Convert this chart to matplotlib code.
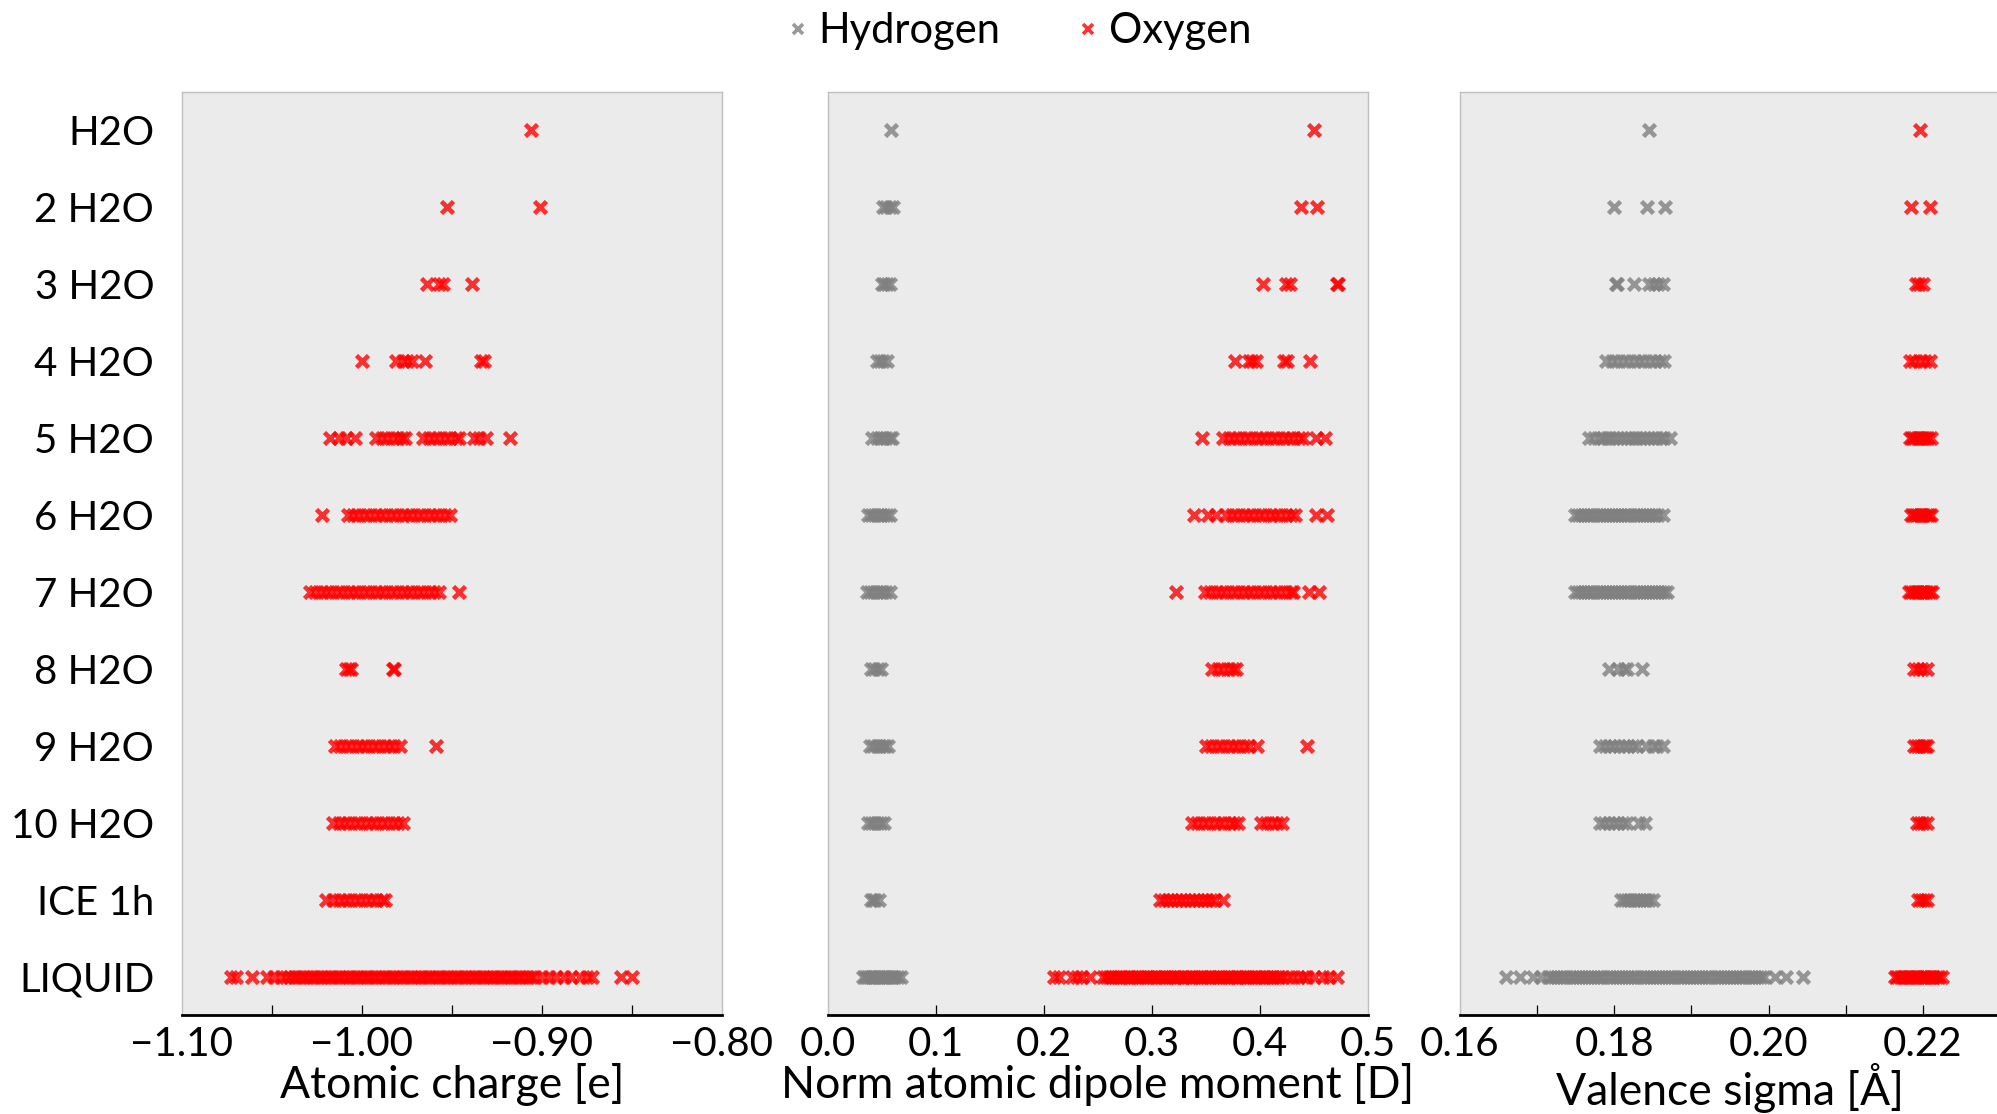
import numpy as np
import matplotlib
matplotlib.use("Agg")
import matplotlib.pyplot as plt
from matplotlib.lines import Line2D

plt.rcParams['font.family'] = ['Lato', 'DejaVu Sans']

# ---- data ----
systems = ['H2O', '2 H2O', '3 H2O', '4 H2O', '5 H2O', '6 H2O', '7 H2O',
           '8 H2O', '9 H2O', '10 H2O', 'ICE 1h', 'LIQUID']

# atomic charge [e] (hydrogen charges lie outside the plotted range)
charge_H = [[] for _ in systems]
charge_O = [
    [-0.906],
    [-0.953, -0.901],
    [-0.964, -0.957, -0.955, -0.939],
    [-1.000, -0.981, -0.977, -0.975, -0.972, -0.965, -0.934, -0.932],
    [-1.018, -1.013, -1.009, -1.004, -0.992, -0.989, -0.986, -0.983, -0.980, -0.978,
     -0.976, -0.966, -0.963, -0.960, -0.957, -0.954, -0.951, -0.948, -0.946, -0.938,
     -0.935, -0.931, -0.918],
    [-1.022, -1.008, -1.005, -1.002, -0.999, -0.996, -0.993, -0.990, -0.987, -0.984,
     -0.981, -0.978, -0.975, -0.972, -0.969, -0.966, -0.963, -0.960, -0.957, -0.954,
     -0.951],
    [-1.029, -1.026, -1.023, -1.020, -1.017, -1.014, -1.011, -1.008, -1.005, -1.002,
     -0.999, -0.996, -0.993, -0.990, -0.987, -0.984, -0.981, -0.978, -0.975, -0.972,
     -0.969, -0.966, -0.963, -0.960, -0.957, -0.946],
    [-1.009, -1.007, -1.006, -0.983, -0.982],
    [-1.015, -1.012, -1.009, -1.006, -1.003, -1.000, -0.997, -0.994, -0.991, -0.988,
     -0.985, -0.982, -0.979, -0.959],
    [-1.016, -1.013, -1.010, -1.007, -1.004, -1.001, -0.998, -0.995, -0.992, -0.989,
     -0.986, -0.983, -0.980, -0.977],
    [-1.020, -1.016, -1.013, -1.010, -1.007, -1.004, -1.001, -0.998, -0.995, -0.992,
     -0.989, -0.987],
    [-1.073, -1.070, -1.061, -1.053, -1.049, -1.045,
     -1.042, -1.040, -1.038, -1.036, -1.034, -1.032, -1.030, -1.028, -1.026, -1.024,
     -1.022, -1.020, -1.018, -1.016, -1.014, -1.012, -1.010, -1.008, -1.006, -1.004,
     -1.002, -1.000, -0.998, -0.996, -0.994, -0.992, -0.990, -0.988, -0.986, -0.984,
     -0.982, -0.980, -0.978, -0.976, -0.974, -0.972, -0.970, -0.968, -0.966, -0.964,
     -0.962, -0.960, -0.958, -0.956, -0.954, -0.952, -0.950, -0.948, -0.946, -0.944,
     -0.942, -0.940, -0.938, -0.936, -0.934, -0.932, -0.930, -0.928, -0.926, -0.924,
     -0.922, -0.920, -0.918, -0.916, -0.914, -0.912, -0.910, -0.908, -0.906, -0.904,
     -0.900, -0.896, -0.892, -0.888, -0.884, -0.879, -0.875, -0.872,
     -0.856, -0.850],
]

# norm atomic dipole moment [D]
dipole_H = [
    [0.058],
    [0.051, 0.054, 0.057, 0.060],
    [0.050, 0.052, 0.055, 0.057],
    [0.045, 0.048, 0.051, 0.055],
    [0.041, 0.045, 0.048, 0.051, 0.054, 0.057, 0.059],
    [0.037, 0.040, 0.043, 0.046, 0.049, 0.052, 0.055, 0.057],
    [0.036, 0.039, 0.042, 0.045, 0.048, 0.051, 0.054, 0.057],
    [0.040, 0.043, 0.046, 0.049],
    [0.039, 0.042, 0.045, 0.048, 0.051, 0.053, 0.056],
    [0.037, 0.040, 0.043, 0.046, 0.049, 0.052],
    [0.040, 0.042, 0.044, 0.047],
    [0.032, 0.034, 0.036, 0.038, 0.040, 0.042, 0.044, 0.046, 0.048, 0.050, 0.052,
     0.054, 0.056, 0.058, 0.060, 0.062, 0.065, 0.068],
]
dipole_O = [
    [0.450],
    [0.438, 0.453],
    [0.403, 0.424, 0.428, 0.471, 0.472],
    [0.377, 0.390, 0.393, 0.396, 0.422, 0.425, 0.446],
    [0.346, 0.366, 0.371, 0.376, 0.381, 0.386, 0.391, 0.396, 0.401, 0.406, 0.411,
     0.416, 0.421, 0.426, 0.431, 0.436, 0.440, 0.452, 0.460],
    [0.339, 0.352, 0.359, 0.369, 0.374, 0.379, 0.384, 0.389, 0.394, 0.399, 0.404,
     0.409, 0.414, 0.419, 0.424, 0.429, 0.432, 0.452, 0.462],
    [0.322, 0.349, 0.354, 0.359, 0.364, 0.369, 0.374, 0.379, 0.384, 0.389, 0.394,
     0.399, 0.404, 0.409, 0.414, 0.419, 0.424, 0.429, 0.431, 0.445, 0.455],
    [0.356, 0.361, 0.366, 0.371, 0.375, 0.378],
    [0.350, 0.355, 0.360, 0.365, 0.370, 0.375, 0.380, 0.385, 0.390, 0.397, 0.444],
    [0.337, 0.342, 0.347, 0.352, 0.357, 0.362, 0.367, 0.372, 0.376, 0.380, 0.401,
     0.406, 0.411, 0.416, 0.420],
    [0.307, 0.311, 0.315, 0.319, 0.323, 0.327, 0.331, 0.335, 0.339, 0.343, 0.347,
     0.351, 0.355, 0.358, 0.366],
    [0.209, 0.214, 0.226, 0.231, 0.235, 0.243,
     0.2550, 0.2575, 0.2600, 0.2625, 0.2650, 0.2675, 0.2700, 0.2725, 0.2750, 0.2775,
     0.2800, 0.2825, 0.2850, 0.2875, 0.2900, 0.2925, 0.2950, 0.2975, 0.3000, 0.3025,
     0.3050, 0.3075, 0.3100, 0.3125, 0.3150, 0.3175, 0.3200, 0.3225, 0.3250, 0.3275,
     0.3300, 0.3325, 0.3350, 0.3375, 0.3400, 0.3425, 0.3450, 0.3475, 0.3500, 0.3525,
     0.3550, 0.3575, 0.3600, 0.3625, 0.3650, 0.3675, 0.3700, 0.3725, 0.3750, 0.3775,
     0.3800, 0.3825, 0.3850, 0.3875, 0.3900, 0.3925, 0.3950, 0.3975, 0.4000, 0.4025,
     0.4050, 0.4075, 0.4100, 0.4125, 0.4150, 0.4175, 0.4200,
     0.425, 0.430, 0.435, 0.440, 0.444, 0.450, 0.458, 0.464, 0.471],
]

# valence sigma [A]
sigma_H = [
    [0.1845],
    [0.1800, 0.1843, 0.1866],
    [0.1802, 0.1803, 0.1826, 0.1845, 0.1851, 0.1857, 0.1863],
    [0.1789, 0.1797, 0.1804, 0.1811, 0.1818, 0.1825, 0.1832, 0.1839, 0.1846, 0.1853,
     0.1859, 0.1865],
    [0.1767, 0.1774, 0.1781, 0.1786, 0.1790, 0.1795, 0.1800, 0.1805, 0.1810, 0.1815,
     0.1820, 0.1825, 0.1830, 0.1835, 0.1840, 0.1845, 0.1850, 0.1855, 0.1860, 0.1865,
     0.1872],
    [0.1749, 0.1753, 0.1757, 0.1761, 0.1765, 0.1769, 0.1773, 0.1777, 0.1781, 0.1785,
     0.1789, 0.1793, 0.1797, 0.1801, 0.1805, 0.1809, 0.1813, 0.1817, 0.1821, 0.1825,
     0.1829, 0.1833, 0.1837, 0.1841, 0.1845, 0.1849, 0.1853, 0.1857, 0.1863],
    [0.1749, 0.1753, 0.1757, 0.1761, 0.1765, 0.1769, 0.1773, 0.1777, 0.1781, 0.1785,
     0.1789, 0.1793, 0.1797, 0.1801, 0.1805, 0.1809, 0.1813, 0.1817, 0.1821, 0.1825,
     0.1829, 0.1833, 0.1837, 0.1841, 0.1845, 0.1849, 0.1853, 0.1857, 0.1861, 0.1865,
     0.1868],
    [0.1793, 0.1805, 0.1812, 0.1816, 0.1836],
    [0.1782, 0.1788, 0.1794, 0.1800, 0.1806, 0.1812, 0.1818, 0.1824, 0.1830, 0.1841,
     0.1850, 0.1856, 0.1863],
    [0.1781, 0.1787, 0.1793, 0.1799, 0.1805, 0.1811, 0.1817, 0.1832, 0.1840],
    [0.1809, 0.1813, 0.1817, 0.1821, 0.1825, 0.1829, 0.1833, 0.1837, 0.1841, 0.1845,
     0.1850],
    [0.1660, 0.1678, 0.1694, 0.1705,
     0.1714, 0.1718, 0.1722, 0.1726, 0.1730, 0.1734, 0.1738, 0.1742, 0.1746, 0.1750,
     0.1754, 0.1758, 0.1762, 0.1766, 0.1770, 0.1774, 0.1778, 0.1782, 0.1786, 0.1790,
     0.1794, 0.1798, 0.1802, 0.1806, 0.1810, 0.1814, 0.1818, 0.1822, 0.1826, 0.1830,
     0.1834, 0.1838, 0.1842, 0.1846, 0.1850, 0.1854, 0.1858, 0.1862, 0.1866, 0.1870,
     0.1874, 0.1878, 0.1882, 0.1886, 0.1890, 0.1894, 0.1898, 0.1902, 0.1906, 0.1910,
     0.1914, 0.1918, 0.1922, 0.1926, 0.1930, 0.1934, 0.1938, 0.1942, 0.1946, 0.1950,
     0.1954, 0.1958, 0.1962, 0.1966, 0.1970, 0.1974, 0.1978, 0.1982, 0.1986, 0.1990,
     0.1994, 0.2008, 0.2022, 0.2045],
]
sigma_O = [
    [0.2196],
    [0.2185, 0.2209],
    [0.2191, 0.2195, 0.2200],
    [0.2183, 0.2189, 0.2196, 0.2203, 0.2209],
    [0.2183, 0.2186, 0.2189, 0.2192, 0.2195, 0.2198, 0.2201, 0.2204, 0.2207, 0.2210],
    [0.2184, 0.2187, 0.2190, 0.2193, 0.2196, 0.2199, 0.2202, 0.2205, 0.2208, 0.2210],
    [0.2182, 0.2185, 0.2188, 0.2191, 0.2194, 0.2197, 0.2200, 0.2203, 0.2206, 0.2209,
     0.2212],
    [0.2189, 0.2194, 0.2199, 0.2205],
    [0.2188, 0.2192, 0.2196, 0.2200, 0.2203, 0.2206],
    [0.2192, 0.2196, 0.2200, 0.2205],
    [0.2194, 0.2198, 0.2202, 0.2205],
    [0.2164, 0.2167, 0.2170, 0.2173, 0.2176, 0.2179, 0.2182, 0.2185, 0.2188, 0.2191,
     0.2194, 0.2197, 0.2200, 0.2203, 0.2206, 0.2209, 0.2212, 0.2215, 0.2218, 0.2221,
     0.2225],
]

# axis settings per panel
xlabels = ['Atomic charge [e]', 'Norm atomic dipole moment [D]', 'Valence sigma [Å]']
xlims = [(-1.10, -0.80), (0.0, 0.5), (0.16, 0.23)]
tick_pos = [[-1.05, -1.00, -0.95, -0.90, -0.85],
            [0.1, 0.2, 0.3, 0.4],
            [0.17, 0.18, 0.19, 0.20, 0.21, 0.22]]
label_pos = [[-1.10, -1.00, -0.90, -0.80],
             [0.0, 0.1, 0.2, 0.3, 0.4, 0.5],
             [0.16, 0.18, 0.20, 0.22]]
label_txt = [['−1.10', '−1.00', '−0.90', '−0.80'],
             ['0.0', '0.1', '0.2', '0.3', '0.4', '0.5'],
             ['0.16', '0.18', '0.20', '0.22']]

H_COLOR = '#808080'
O_COLOR = '#ff0000'
FS = 29

fig = plt.figure(figsize=(19.97, 11.14), dpi=100)
lefts = [0.0911, 0.4146, 0.7311]
axes = [fig.add_axes([l, 0.0889, 0.2704, 0.8286]) for l in lefts]

panels = [(charge_H, charge_O), (dipole_H, dipole_O), (sigma_H, sigma_O)]
for k, ax in enumerate(axes):
    hdat, odat = panels[k]
    ax.set_facecolor('#ebebeb')
    for i in range(len(systems)):
        if hdat[i]:
            ax.plot(hdat[i], [i] * len(hdat[i]), linestyle='none', marker='x',
                    ms=8.5, mew=3.3, color=H_COLOR, alpha=0.8)
        if odat[i]:
            ax.plot(odat[i], [i] * len(odat[i]), linestyle='none', marker='x',
                    ms=8.5, mew=3.3, color=O_COLOR, alpha=0.8)
    ax.set_ylim(len(systems) - 0.5, -0.5)
    ax.set_xlim(*xlims[k])
    ax.set_yticks(range(len(systems)))
    if k == 0:
        ax.set_yticklabels(systems, fontsize=FS)
    else:
        ax.set_yticklabels([])
    ax.tick_params(axis='y', length=0, pad=20)

    ax.xaxis.remove_overlapping_locs = False
    ax.set_xticks(label_pos[k])
    ax.set_xticklabels(label_txt[k], fontsize=FS)
    ax.set_xticks(tick_pos[k], minor=True)
    ax.tick_params(axis='x', which='major', length=0, pad=8)
    ax.tick_params(axis='x', which='minor', direction='in', length=7, width=0.9,
                   color='black')
    ax.set_xlabel(xlabels[k], fontsize=32, labelpad=0)

    for side in ['top', 'left', 'right']:
        ax.spines[side].set_color('#c0c0c0')
        ax.spines[side].set_linewidth(1)
    ax.spines['bottom'].set_color('black')
    ax.spines['bottom'].set_linewidth(2)

handles = [Line2D([], [], linestyle='none', marker='x', ms=6.5, mew=2.6, color=H_COLOR, alpha=0.8),
           Line2D([], [], linestyle='none', marker='x', ms=6.5, mew=2.6, color=O_COLOR, alpha=0.8)]
fig.legend(handles, ['Hydrogen', 'Oxygen'], loc='center', bbox_to_anchor=(0.510, 0.972),
           ncol=2, frameon=False, fontsize=30, handlelength=0.6, handletextpad=0.2,
           columnspacing=1.8)

fig.savefig('out.png', dpi=100)
